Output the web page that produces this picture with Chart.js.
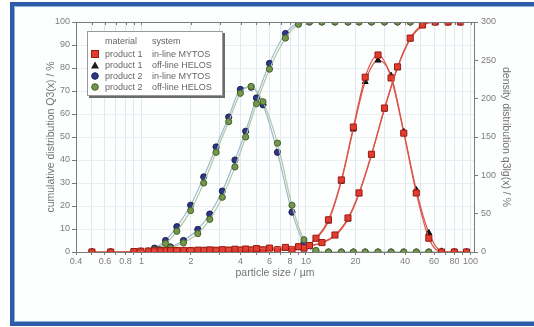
<!DOCTYPE html>
<html><head><meta charset="utf-8">
<script src="https://cdn.jsdelivr.net/npm/chart.js@4/dist/chart.umd.min.js"></script>
<style>
html,body{margin:0;padding:0;background:#fff;width:534px;height:327px;overflow:hidden;font-family:"Liberation Sans",Arial,sans-serif;}
#frame{position:absolute;left:10px;top:2px;width:540px;height:324px;border:4px solid #2d5ba7;border-right:none;box-sizing:border-box;background:#fdfefe;box-shadow:inset 1px 1px 0 #8fb0dc, inset 0 -1px 0 #8fb0dc;}
#c{position:absolute;left:0;top:0;}
#legend{position:absolute;left:87px;top:31px;width:136px;height:65px;background:#fff;border:1px solid #9a9a9a;box-shadow:2px 2px 0 #6c6c6c;box-sizing:border-box;font-size:9px;color:#666;}
#legend .t{position:absolute;white-space:nowrap;line-height:10px;}
#legend svg{position:absolute;}
</style></head>
<body>
<div id="frame"></div>
<canvas id="c" width="534" height="327"></canvas>
<div id="legend">
  <span class="t" style="left:17px;top:4px">material</span>
  <span class="t" style="left:64px;top:4px">system</span>
  <svg style="left:2px;top:17px" width="10" height="10"><rect x="1.5" y="1.5" width="7" height="7" fill="#e23b2f" stroke="#9a1d14" stroke-width="1"/></svg>
  <span class="t" style="left:17px;top:17px">product 1</span><span class="t" style="left:64px;top:17px">in-line MYTOS</span>
  <svg style="left:2px;top:28px" width="10" height="10"><polygon points="5,1.5 9,8.5 1,8.5" fill="#1c1c1c"/></svg>
  <span class="t" style="left:17px;top:28px">product 1</span><span class="t" style="left:64px;top:28px">off-line HELOS</span>
  <svg style="left:2px;top:39px" width="10" height="10"><circle cx="5" cy="5" r="3.3" fill="#2e3783" stroke="#1a1f50" stroke-width="1"/></svg>
  <span class="t" style="left:17px;top:39px">product 2</span><span class="t" style="left:64px;top:39px">in-line MYTOS</span>
  <svg style="left:2px;top:50px" width="10" height="10"><circle cx="5" cy="5" r="3.3" fill="#74984a" stroke="#45602a" stroke-width="1"/></svg>
  <span class="t" style="left:17px;top:50px">product 2</span><span class="t" style="left:64px;top:50px">off-line HELOS</span>
</div>
<script>
// class upper bounds (cumulative Q3) and class mid sizes (density q3lg), µm
const cumSizes = [0.5, 0.65, 0.9, 1.1, 1.3, 1.5, 1.8, 2.2, 2.6, 3.1, 3.7, 4.3, 5.0, 6.0, 7.5, 9.0, 10.5, 12.5, 15, 18, 21, 25, 30, 36, 43, 51, 61, 73, 87];
const densSizes = [0.99, 1.2, 1.4, 1.64, 1.99, 2.39, 2.84, 3.39, 3.99, 4.64, 5.48, 6.71, 8.22, 9.72, 11.5, 13.7, 16.4, 19.4, 22.9, 27.4, 32.9, 39.3, 46.8, 55.8, 66.7, 79.7, 94.6];

// cumulative distribution Q3 / %
const p1MytosQ3 = [0, 0, 0.2, 0.4, 0.5, 0.6, 0.7, 0.8, 0.9, 1.0, 1.2, 1.3, 1.5, 1.7, 2.0, 2.3, 2.8, 4.1, 7.4, 14.8, 25.7, 42.5, 62.6, 80.5, 93, 98.7, 100, 100, 100];
const p1HelosQ3 = [0, 0, 0.1, 0.3, 0.4, 0.5, 0.6, 0.7, 0.8, 0.9, 1.0, 1.1, 1.3, 1.5, 1.8, 2.1, 2.6, 3.9, 7.0, 14.2, 25.2, 42.0, 62.0, 80.0, 92.5, 98.3, 99.9, 100, 100];
const p2MytosQ3 = [0, 0, 0.1, 0.4, 1.1, 2.2, 5.0, 9.8, 16.5, 26.5, 40, 52.5, 67, 82, 95, 99.5, 100, 100, 100, 100, 100, 100, 100, 100, 100, 100, 100, 100, 100];
const p2HelosQ3 = [0, 0, 0.1, 0.3, 0.9, 1.8, 4.0, 8.0, 14.2, 23.8, 37, 50, 64.5, 79.5, 93, 99, 100, 100, 100, 100, 100, 100, 100, 100, 100, 100, 100, 100, 100];

// density distribution q3lg / %
const p1MytosQ = [1, 1.5, 1.8, 2, 2, 2.2, 2.3, 2.5, 2.5, 2.6, 2.8, 3, 3.3, 5, 18, 42, 94, 163, 228, 257, 227, 155, 77, 18, 0, 0, 0];
const p1HelosQ = [1, 1.3, 1.6, 1.8, 1.9, 2, 2.1, 2.2, 2.3, 2.4, 2.5, 2.8, 3, 4.5, 17, 40, 92, 160, 222, 250, 230, 157, 81, 25, 1, 0, 0];
const p2MytosQ = [1, 5, 15, 33, 61, 98, 137, 176, 212, 215, 192, 130, 52, 12, 1, 0, 0, 0, 0, 0, 0, 0, 0, 0, 0, 0, 0];
const p2HelosQ = [0.5, 3, 11, 27, 54, 90, 130, 170, 207, 216, 196, 142, 61, 16, 2, 0, 0, 0, 0, 0, 0, 0, 0, 0, 0, 0, 0];

const xTickValues = [0.4,0.5,0.6,0.7,0.8,0.9,1,2,3,4,5,6,7,8,9,10,20,30,40,50,60,70,80,90,100];
const xTickLabels = [0.4,0.6,0.8,1,2,4,6,8,10,20,40,60,80,100];

const pts = (xs, ys) => xs.map((x, i) => ({x: x, y: ys[i]}));

const red = {bg:'#e23b2f', bd:'#9a1d14', line:'#e0544a'};
const blk = {bg:'#1c1c1c', bd:'#000000', line:'#d4574c'};
const blu = {bg:'#2e3783', bd:'#1a1f50', line:'#9db8cf'};
const grn = {bg:'#74984a', bd:'#45602a', line:'#b2c8a2'};

function ds(label, data, axis, c, style, r) {
  return {label, data, yAxisID: axis, borderColor: c.line, borderWidth: 1.2,
    pointStyle: style, pointRadius: r, pointBackgroundColor: c.bg, pointBorderColor: c.bd,
    pointBorderWidth: 1, cubicInterpolationMode: 'monotone', fill: false};
}

const framePlugin = {
  id: 'frame',
  afterDatasetsDraw(chart) {
    const {ctx, chartArea: a, scales} = chart;
    ctx.save();
    ctx.strokeStyle = '#7a7a7a';
    ctx.lineWidth = 1;
    ctx.beginPath();
    ctx.moveTo(a.left, a.top + 0.5); ctx.lineTo(a.right, a.top + 0.5);
    xTickValues.forEach(v => {
      const px = Math.round(scales.x.getPixelForValue(v)) + 0.5;
      ctx.moveTo(px, a.top); ctx.lineTo(px, a.top + 3);
    });
    ctx.stroke();
    ctx.restore();
  }
};

const fam = '"Liberation Sans", Arial, sans-serif';

new Chart(document.getElementById('c'), {
  type: 'line',
  data: {
    datasets: [
      ds('product 1 in-line MYTOS Q3', pts(cumSizes, p1MytosQ3), 'y', red, 'rect', 4.3),
      ds('product 1 in-line MYTOS q3', pts(densSizes, p1MytosQ), 'y2', red, 'rect', 4.3),
      ds('product 1 off-line HELOS Q3', pts(cumSizes, p1HelosQ3), 'y', blk, 'triangle', 3.4),
      ds('product 1 off-line HELOS q3', pts(densSizes, p1HelosQ), 'y2', blk, 'triangle', 3.4),
      ds('product 2 off-line HELOS Q3', pts(cumSizes, p2HelosQ3), 'y', grn, 'circle', 3.1),
      ds('product 2 off-line HELOS q3', pts(densSizes, p2HelosQ), 'y2', grn, 'circle', 3.1),
      ds('product 2 in-line MYTOS Q3', pts(cumSizes, p2MytosQ3), 'y', blu, 'circle', 3.1),
      ds('product 2 in-line MYTOS q3', pts(densSizes, p2MytosQ), 'y2', blu, 'circle', 3.1)
    ]
  },
  options: {
    responsive: false,
    animation: false,
    devicePixelRatio: 1,
    layout: {padding: {top: 22, left: 0, right: 0, bottom: 0}},
    plugins: {legend: {display: false}, tooltip: {enabled: false}},
    scales: {
      x: {
        type: 'logarithmic', min: 0.4, max: 105,
        afterBuildTicks: s => { s.ticks = xTickValues.map(v => ({value: v})); },
        afterFit: s => { s.height = 75; },
        ticks: {autoSkip: false, maxRotation: 0, padding: 1, color: '#7c7c7c',
          font: {family: fam, size: 9},
          callback: v => xTickLabels.includes(v) ? String(v) : ''},
        grid: {color: '#dfe7ef', tickColor: '#7a7a7a', tickLength: 3},
        border: {color: '#7a7a7a'},
        title: {display: true, text: 'particle size / µm', color: '#747474',
          font: {family: fam, size: 10.5}, padding: {top: 0, bottom: 48}}
      },
      y: {
        position: 'left', min: 0, max: 100,
        afterFit: s => { s.width = 76; },
        ticks: {stepSize: 5, padding: 2, color: '#7c7c7c',
          font: {family: fam, size: 9},
          callback: v => v % 10 === 0 ? String(v) : ''},
        grid: {tickLength: 4, tickColor: '#7a7a7a',
          color: c => (c.tick && c.tick.value % 10 === 0 && c.tick.value > 0 && c.tick.value < 100) ? '#e9eef3' : 'rgba(0,0,0,0)'},
        border: {color: '#7a7a7a'},
        title: {display: true, text: 'cumulative distribution Q3(x) / %', color: '#747474',
          font: {family: fam, size: 10.5}, padding: {top: 45, bottom: 0}}
      },
      y2: {
        position: 'right', min: 0, max: 300,
        afterFit: s => { s.width = 60; },
        ticks: {stepSize: 50, padding: 3, color: '#7c7c7c',
          font: {family: fam, size: 9}},
        grid: {drawOnChartArea: false, tickLength: 4, tickColor: '#7a7a7a'},
        border: {color: '#7a7a7a'},
        title: {display: true, text: 'density distribution q3lg(x) / %', color: '#747474',
          font: {family: fam, size: 10.5}, padding: {top: 22, bottom: 0}}
      }
    }
  },
  plugins: [framePlugin]
});
</script>
</body></html>
